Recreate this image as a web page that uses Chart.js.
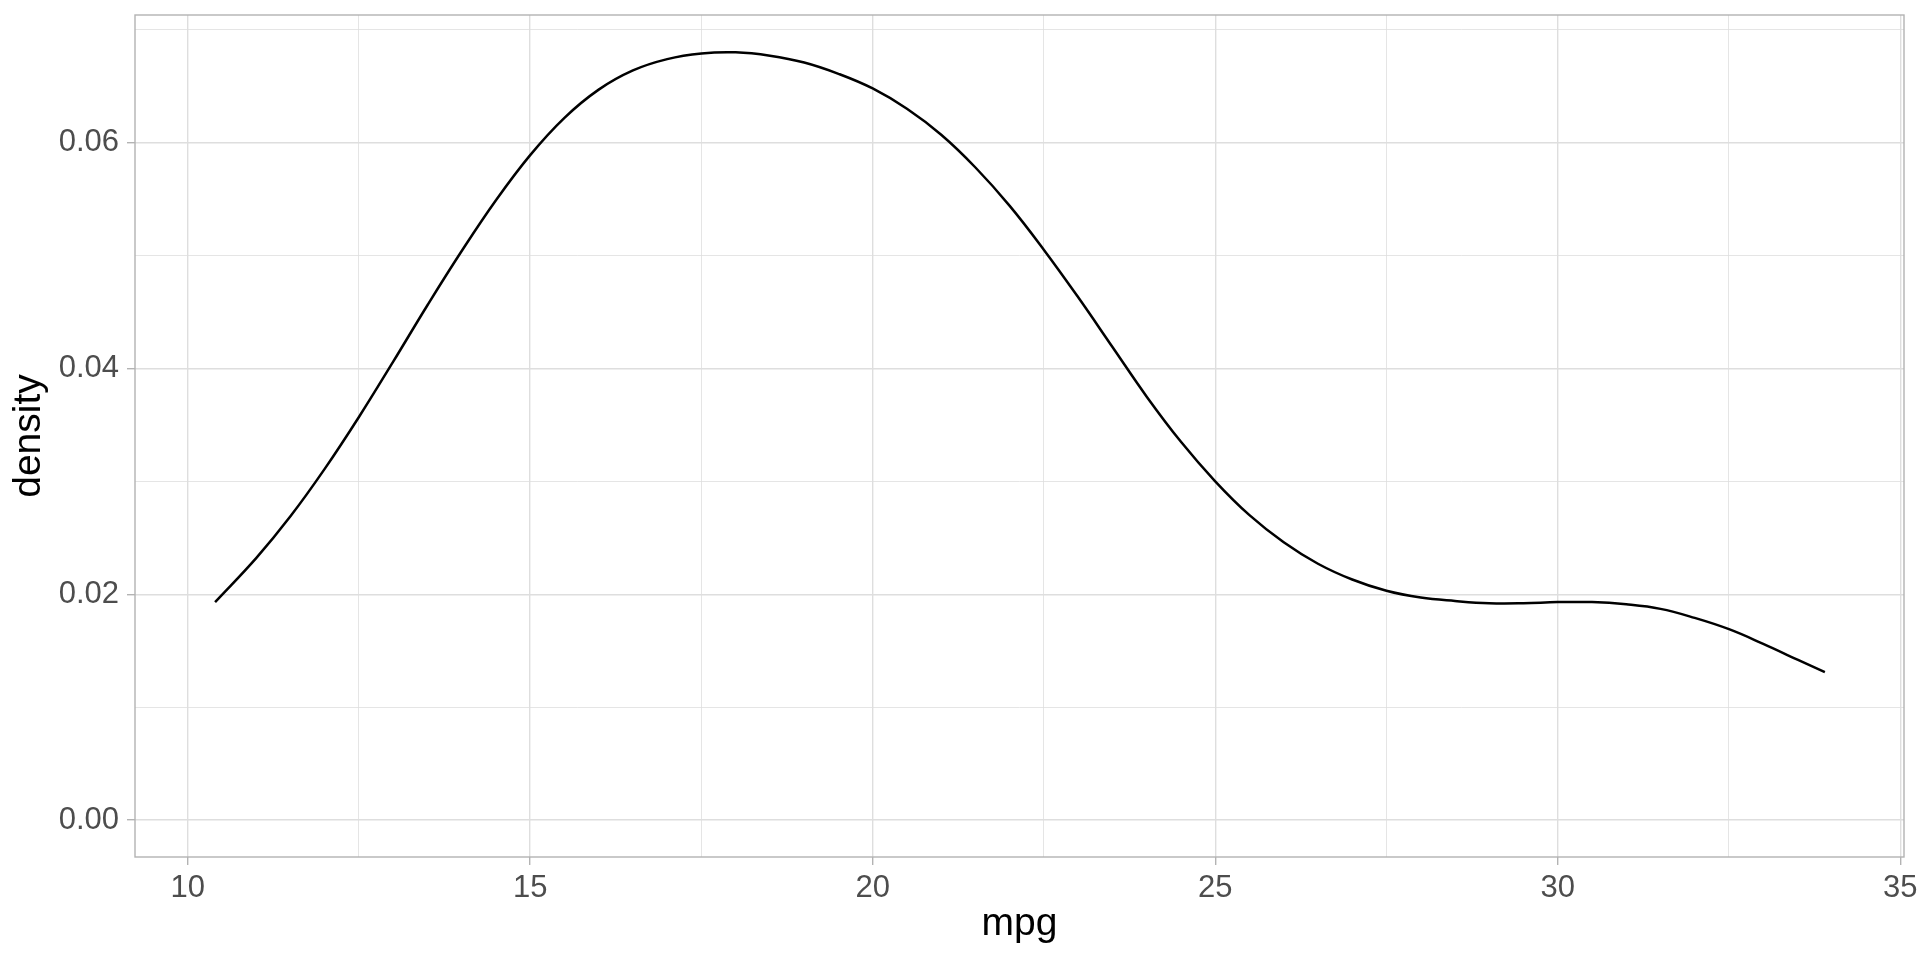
<!DOCTYPE html>
<html>
<head>
<meta charset="utf-8">
<script src="https://cdn.jsdelivr.net/npm/chart.js@4.4.1/dist/chart.umd.min.js"></script>
<style>
  html, body { margin: 0; padding: 0; background: #ffffff; }
  #wrap { width: 1920px; height: 960px; position: relative; }
</style>
</head>
<body>
<div id="wrap"><canvas id="density"></canvas></div>
<script>
let densityChart;

// values
let mpg = [
  10.4, 11, 11.5, 12, 12.5, 13, 13.5, 14, 14.5, 15, 15.5, 16, 16.5, 17, 17.5,
  18, 18.5, 19, 19.5, 20, 20.5, 21, 21.5, 22, 22.5, 23, 23.5, 24, 24.5, 25,
  25.5, 26, 26.5, 27, 27.5, 28, 28.5, 29, 29.5, 30, 30.5, 31, 31.5, 32, 32.5,
  33, 33.5, 33.9,
];
let density = [
  0.0193, 0.0232, 0.0269, 0.0311, 0.0357, 0.0406, 0.0456, 0.0504, 0.0549,
  0.0589, 0.0622, 0.0647, 0.0664, 0.0674, 0.0679, 0.068, 0.0677, 0.0671,
  0.0661, 0.0648, 0.063, 0.0607, 0.0578, 0.0544, 0.0505, 0.0463, 0.0419,
  0.0375, 0.0335, 0.03, 0.027, 0.0246, 0.0227, 0.0213, 0.0203, 0.0197,
  0.0194, 0.0192, 0.0192, 0.0193, 0.0193, 0.0191, 0.0187, 0.0179, 0.0169,
  0.0156, 0.0142, 0.0131,
];

let xMajor = [10, 15, 20, 25, 30, 35];
let xMinor = [12.5, 17.5, 22.5, 27.5, 32.5];
let yMajor = [0, 0.02, 0.04, 0.06];
let yMinor = [0.01, 0.03, 0.05, 0.07];

let points = mpg.map((m, i) => ({ x: m, y: density[i] }));

function isMajor(list, v) {
  return list.some((m) => Math.abs(m - v) < 1e-9);
}

function gridOpts(major) {
  return {
    color: "#dedede",
    lineWidth: (ctx) => (ctx.tick && isMajor(major, ctx.tick.value) ? 1.4 : 0.8),
    tickLength: 8,
    tickColor: (ctx) => (ctx.tick && isMajor(major, ctx.tick.value) ? "#b3b3b3" : "rgba(0,0,0,0)"),
    tickWidth: 1.4,
  };
}

const panelBorder = {
  id: "panelBorder",
  afterDraw(chart) {
    const a = chart.chartArea;
    const ctx = chart.ctx;
    ctx.save();
    ctx.strokeStyle = "#b3b3b3";
    ctx.lineWidth = 1.4;
    ctx.strokeRect(a.left, a.top, a.right - a.left, a.bottom - a.top);
    ctx.restore();
  },
};

window.addEventListener("load", () => {
  const graph = document.getElementById("density");
  densityChart = new Chart(graph, {
    type: "line",
    data: {
      datasets: [
        {
          data: points,
          borderColor: "#000000",
          borderWidth: 2.5,
          pointRadius: 0,
          tension: 0.4,
          fill: false,
        },
      ],
    },
    plugins: [panelBorder],
    options: {
      responsive: true,
      maintainAspectRatio: false,
      animation: false,
      layout: {
        padding: { top: 15, right: 16, left: 0, bottom: 0 },
      },
      scales: {
        x: {
          type: "linear",
          min: 9.231,
          max: 35.055,
          afterBuildTicks: (scale) => {
            scale.ticks = xMajor.concat(xMinor).sort((a, b) => a - b).map((v) => ({ value: v }));
          },
          afterFit: (scale) => {
            scale.height = 103;
            scale.paddingLeft = 0;
            scale.paddingRight = 0;
          },
          grid: gridOpts(xMajor),
          border: { display: false },
          ticks: {
            autoSkip: false,
            maxRotation: 0,
            padding: 5,
            color: "#4d4d4d",
            font: { family: "Liberation Sans, Arial, sans-serif", size: 31 },
            callback: (v) => (isMajor(xMajor, v) ? String(v) : ""),
          },
          title: {
            display: true,
            text: "mpg",
            color: "#000000",
            padding: { top: 0, bottom: 12 },
            font: { family: "Liberation Sans, Arial, sans-serif", size: 39 },
          },
        },
        y: {
          type: "linear",
          min: -0.00328,
          max: 0.07131,
          afterBuildTicks: (scale) => {
            scale.ticks = yMajor.concat(yMinor).sort((a, b) => a - b).map((v) => ({ value: v }));
          },
          afterFit: (scale) => {
            scale.width = 135;
            scale.paddingTop = 0;
            scale.paddingBottom = 0;
          },
          grid: gridOpts(yMajor),
          border: { display: false },
          ticks: {
            autoSkip: false,
            padding: 8,
            color: "#4d4d4d",
            font: { family: "Liberation Sans, Arial, sans-serif", size: 31 },
            callback: (v) => (isMajor(yMajor, v) ? v.toFixed(2) : ""),
          },
          title: {
            display: true,
            text: "density",
            color: "#000000",
            padding: { top: 6, bottom: 0 },
            font: { family: "Liberation Sans, Arial, sans-serif", size: 39 },
          },
        },
      },
      plugins: {
        legend: { display: false },
        tooltip: { enabled: false },
      },
    },
  });
});
</script>
</body>
</html>
